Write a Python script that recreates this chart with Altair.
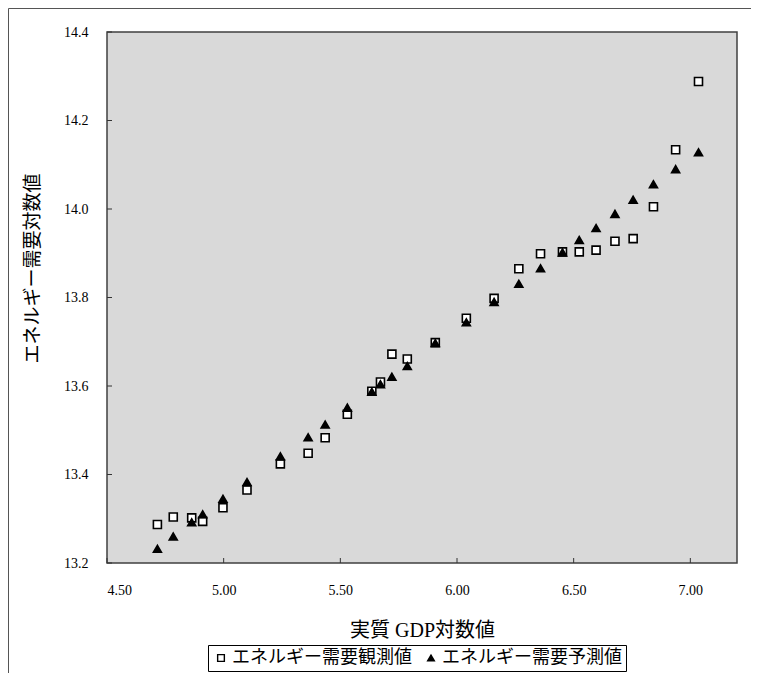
import altair as alt
import pandas as pd

# ---- data ----
gdp_log = [4.716, 4.784, 4.863, 4.910, 4.997, 5.100, 5.243, 5.362, 5.435, 5.530,
           5.635, 5.672, 5.721, 5.787, 5.907, 6.040, 6.159, 6.265, 6.358, 6.452,
           6.524, 6.596, 6.677, 6.755, 6.842, 6.937, 7.035]
energy_observed = [13.287, 13.304, 13.302, 13.294, 13.325, 13.365, 13.424, 13.448, 13.483, 13.536,
                   13.588, 13.609, 13.672, 13.661, 13.698, 13.753, 13.798, 13.865, 13.899, 13.903,
                   13.903, 13.907, 13.927, 13.933, 14.005, 14.134, 14.288]
energy_predicted = [13.232, 13.260, 13.292, 13.310, 13.345, 13.383, 13.441, 13.484, 13.513, 13.551,
                    13.587, 13.604, 13.621, 13.645, 13.697, 13.744, 13.790, 13.831, 13.866, 13.902,
                    13.930, 13.957, 13.989, 14.021, 14.056, 14.090, 14.128]
series_names = ["エネルギー需要観測値", "エネルギー需要予測値"]
x_ticks = [4.5, 5.0, 5.5, 6.0, 6.5, 7.0]
y_ticks = [13.2, 13.4, 13.6, 13.8, 14.0, 14.2, 14.4]

rows = []
for x, o, p in zip(gdp_log, energy_observed, energy_predicted):
    rows.append({"x": x, "y": o, "series": series_names[0]})
    rows.append({"x": x, "y": p, "series": series_names[1]})
df = pd.DataFrame(rows)

JP = "Noto Sans CJK JP"
SERIF = "Liberation Serif"

xscale = alt.Scale(domain=[4.5, 7.2], nice=False, zero=False)
yscale = alt.Scale(domain=[13.2, 14.4], nice=False, zero=False)

legend_def = alt.Legend(title=None, orient="none", legendX=101, legendY=613,
                        direction="horizontal", labelLimit=0,
                        labelFont=JP, labelFontSize=18, labelColor="black",
                        symbolSize=45, symbolStrokeWidth=1.4, symbolStrokeColor="black",
                        labelOffset=2, columnPadding=10,
                        strokeColor="black", fillColor="white",
                        padding=4)

points = alt.Chart(df).mark_point(filled=False, opacity=1, strokeWidth=1.6, size=64).encode(
    x=alt.X("x:Q", scale=xscale,
            axis=alt.Axis(values=x_ticks, format=".2f", title="実質 GDP対数値",
                          grid=False, domain=False, ticks=False, labelPadding=20,
                          titlePadding=23, titleFontSize=20, titleFont=f"{SERIF}, {JP}",
                          titleFontWeight="normal")),
    y=alt.Y("y:Q", scale=yscale,
            axis=alt.Axis(values=y_ticks, format=".1f", title="エネルギー需要対数値",
                          grid=False, domain=False, ticks=False, labelPadding=19,
                          titleFontSize=19, titleFont=JP, titleFontWeight="normal",
                          titleX=-75, titleY=236, titleAlign="center",
                          titleBaseline="middle")),
    shape=alt.Shape("series:N", sort=series_names,
                    scale=alt.Scale(domain=series_names, range=["square", "triangle-up"]),
                    legend=legend_def),
    fill=alt.Fill("series:N", sort=series_names,
                  scale=alt.Scale(domain=series_names, range=["white", "black"]),
                  legend=legend_def),
    stroke=alt.Stroke("series:N", sort=series_names,
                      scale=alt.Scale(domain=series_names, range=["black", "black"]),
                      legend=legend_def),
)

ytick_df = pd.DataFrame({"v": y_ticks})
xtick_df = pd.DataFrame({"v": x_ticks})

yticks = alt.Chart(ytick_df).mark_rule(color="#333333", strokeWidth=1).encode(
    y=alt.Y("v:Q", scale=yscale), x=alt.value(0), x2=alt.value(5))
xticks = alt.Chart(xtick_df).mark_rule(color="#333333", strokeWidth=1).encode(
    x=alt.X("v:Q", scale=xscale), y=alt.value(531), y2=alt.value(526))

frame_left = alt.Chart(ytick_df.head(1)).mark_rule(color="#555555", strokeWidth=1,
                                                   clip=False).encode(
    x=alt.value(-98.5), y=alt.value(-23.5), y2=alt.value(800))
frame_top = alt.Chart(ytick_df.head(1)).mark_rule(color="#555555", strokeWidth=1,
                                                  clip=False).encode(
    x=alt.value(-98.5), x2=alt.value(800), y=alt.value(-23.5))

chart = alt.layer(frame_left, frame_top, yticks, xticks, points).properties(
    width=630, height=531,
    autosize=alt.AutoSizeParams(type="none"),
    padding={"left": 99, "top": 24, "right": 14, "bottom": 110},
    background="white",
).configure_view(
    fill="#d9d9d9", stroke="#404040", strokeWidth=1.5
).configure_axis(
    labelFont=SERIF, labelFontSize=14, labelColor="black", titleColor="black"
).resolve_scale(x="shared", y="shared")

chart.save("out.html", embed_options={"renderer": "svg", "actions": False})
